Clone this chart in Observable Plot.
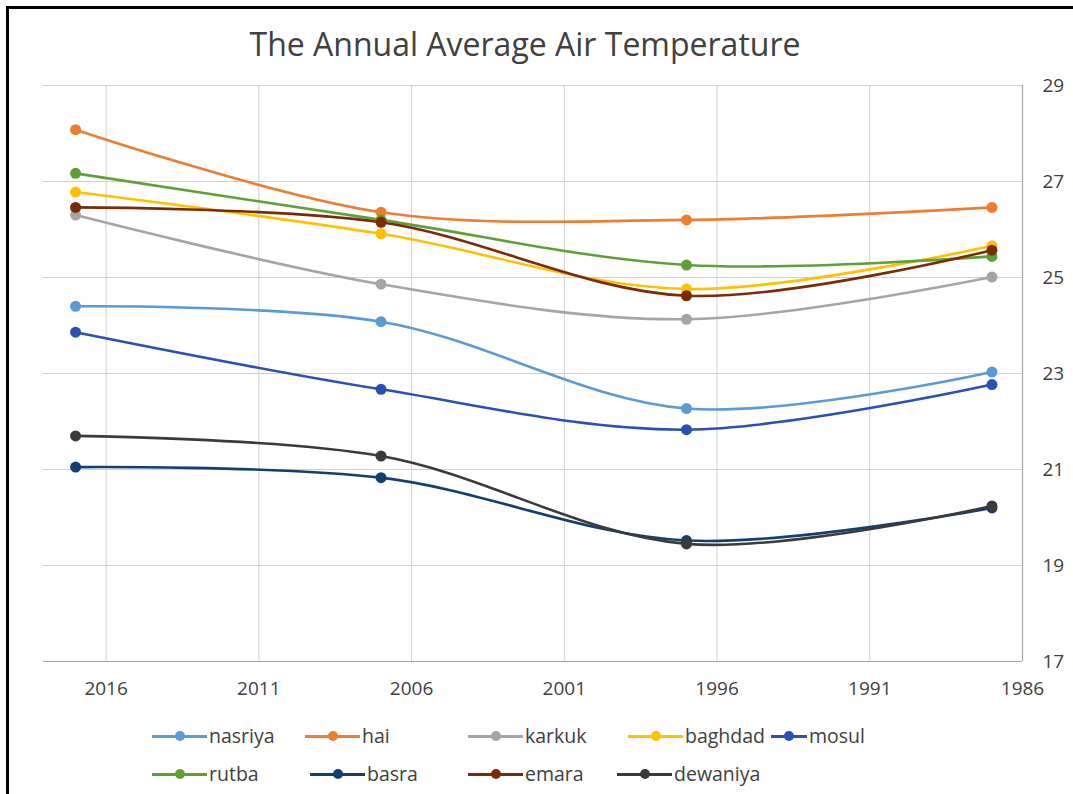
<!DOCTYPE html>
<html>
<head>
<meta charset="utf-8">
<script src="https://cdn.jsdelivr.net/npm/d3@7"></script>
<script src="https://cdn.jsdelivr.net/npm/@observablehq/plot@0.6"></script>
<style>
  html, body { margin: 0; padding: 0; background: #fff; }
  #wrap { position: relative; width: 1073px; height: 794px; overflow: hidden; background: #fff; font-family: "Open Sans", sans-serif; }
  #border { position: absolute; left: 6px; top: 6px; width: 1100px; height: 820px; border-left: 3px solid #000; border-top: 3px solid #000; box-sizing: border-box; }
  #title { position: absolute; left: 0; width: 1050px; top: 22px; text-align: center; font-size: 32px; color: #404040; }
  #chart { position: absolute; left: 0; top: 0; }
  .leg { position: absolute; display: flex; align-items: center; font-size: 19.5px; color: #404040; line-height: 26px; }
  .sw { position: relative; width: 55px; height: 12px; margin-right: 2px; }
  .sw .ln { position: absolute; left: 0; right: 0; top: 4.5px; height: 3px; }
  .sw .dt { position: absolute; left: 22.5px; top: 1px; width: 10px; height: 10px; border-radius: 50%; }
</style>
</head>
<body>
<div id="wrap">
  <div id="border"></div>
  <div id="title">The Annual Average Air Temperature</div>
  <div id="chart"></div>
</div>
<script>
const years = [2017, 2007, 1997, 1987];
const seriesNames = ["nasriya", "hai", "karkuk", "baghdad", "mosul", "rutba", "basra", "emara", "dewaniya"];
const seriesColors = ["#5b9bd5", "#ed7d31", "#a5a5a5", "#ffc000", "#2b4fb3", "#5fa035", "#133f70", "#7b2a08", "#3a3a3a"];
const nasriya  = [24.40, 24.08, 22.27, 23.03];
const hai      = [28.08, 26.36, 26.20, 26.46];
const karkuk   = [26.30, 24.86, 24.13, 25.01];
const baghdad  = [26.78, 25.91, 24.76, 25.66];
const mosul    = [23.86, 22.67, 21.83, 22.77];
const rutba    = [27.17, 26.20, 25.26, 25.44];
const basra    = [21.05, 20.83, 19.52, 20.20];
const emara    = [26.46, 26.15, 24.62, 25.57];
const dewaniya = [21.70, 21.28, 19.45, 20.24];
const xTicks = [2016, 2011, 2006, 2001, 1996, 1991, 1986];
const yTicks = [17, 19, 21, 23, 25, 27, 29];
const seriesValues = [nasriya, hai, karkuk, baghdad, mosul, rutba, basra, emara, dewaniya];

const data = [];
seriesNames.forEach((name, i) => {
  years.forEach((yr, j) => data.push({station: name, year: yr, temp: seriesValues[i][j]}));
});

const chart = Plot.plot({
  width: 1073,
  height: 710,
  marginTop: 85,
  marginLeft: 43,
  marginRight: 51,
  marginBottom: 49,
  style: {fontFamily: "Open Sans, sans-serif", fontSize: "19px", color: "#404040", background: "transparent"},
  x: {domain: [2018.05, 1986]},
  y: {domain: [17, 29]},
  color: {domain: seriesNames, range: seriesColors},
  marks: [
    Plot.gridX(xTicks, {stroke: "#d0d0d0", strokeOpacity: 1, strokeWidth: 1}),
    Plot.gridY(yTicks, {stroke: "#d0d0d0", strokeOpacity: 1, strokeWidth: 1}),
    Plot.ruleY([17], {stroke: "#a6a6a6", strokeWidth: 1.2}),
    Plot.ruleX([1986], {stroke: "#a6a6a6", strokeWidth: 1.2}),
    Plot.line(data, {x: "year", y: "temp", z: "station", stroke: "station", strokeWidth: 2.6, curve: "catmull-rom"}),
    Plot.dot(data, {x: "year", y: "temp", fill: "station", r: 5.5}),
    Plot.axisX({ticks: xTicks, tickFormat: d => String(d), tickSize: 0, tickPadding: 20, fontSize: 19, label: null}),
    Plot.axisY({ticks: yTicks, anchor: "right", tickSize: 0, tickPadding: 20, fontSize: 19, label: null})
  ]
});
document.getElementById("chart").appendChild(chart);

// legend
const legendPos = [
  [152, 736], [305, 736], [468, 736], [628, 736], [771, 736],
  [152, 774], [310, 774], [468, 774], [617, 774]
];
const wrap = document.getElementById("wrap");
seriesNames.forEach((name, i) => {
  const item = document.createElement("div");
  item.className = "leg";
  item.style.left = legendPos[i][0] + "px";
  item.style.top = (legendPos[i][1] - 13) + "px";
  const sw = document.createElement("div");
  sw.className = "sw";
  if (name === "mosul") sw.style.width = "36px";
  const ln = document.createElement("div");
  ln.className = "ln";
  ln.style.background = seriesColors[i];
  const dt = document.createElement("div");
  dt.className = "dt";
  dt.style.background = seriesColors[i];
  if (name === "mosul") dt.style.left = "13px";
  sw.appendChild(ln); sw.appendChild(dt);
  const tx = document.createElement("span");
  tx.textContent = name;
  item.appendChild(sw); item.appendChild(tx);
  wrap.appendChild(item);
});
</script>
</body>
</html>
